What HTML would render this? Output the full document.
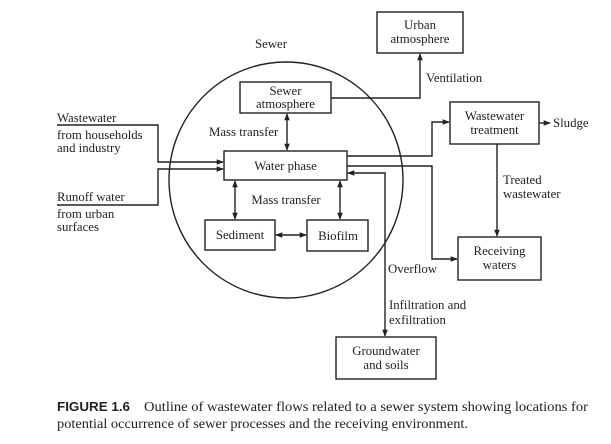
<!DOCTYPE html>
<html><head><meta charset="utf-8"><style>
html,body{margin:0;padding:0;background:#fff;width:611px;height:444px;overflow:hidden}
svg{display:block}
text{font-family:"Liberation Serif",serif;font-size:12.8px;fill:#222}
.c{font-size:14px}
</style></head><body>
<svg width="611" height="444" viewBox="0 0 611 444" xmlns="http://www.w3.org/2000/svg">
<defs><marker id="a" viewBox="0 0 10 10" refX="9" refY="5" markerWidth="7" markerHeight="7" orient="auto-start-reverse" markerUnits="userSpaceOnUse"><path d="M0,1 L10,5 L0,9 z" fill="#222"/></marker></defs>
<g fill="none" stroke="#222" stroke-width="1.4">
<ellipse cx="286" cy="180" rx="117" ry="118"/>
<rect x="377" y="12" width="86" height="41"/>
<rect x="240" y="82" width="91" height="31"/>
<rect x="224" y="151" width="123" height="29"/>
<rect x="205" y="220" width="70" height="30"/>
<rect x="307" y="220" width="61" height="31"/>
<rect x="450" y="102" width="89" height="42"/>
<rect x="458" y="237" width="83" height="43"/>
<rect x="336" y="337" width="100" height="42"/>
<polyline points="331,98 420,98 420,54" marker-end="url(#a)"/>
<line x1="287" y1="114" x2="287" y2="150" marker-start="url(#a)" marker-end="url(#a)"/>
<line x1="235" y1="181" x2="235" y2="219" marker-start="url(#a)" marker-end="url(#a)"/>
<line x1="340" y1="181" x2="340" y2="219" marker-start="url(#a)" marker-end="url(#a)"/>
<line x1="276" y1="235" x2="306" y2="235" marker-start="url(#a)" marker-end="url(#a)"/>
<polyline points="57,125 158,125 158,162 223,162" marker-end="url(#a)"/>
<polyline points="57,205 158,205 158,169 223,169" marker-end="url(#a)"/>
<polyline points="347,156 432,156 432,122 449,122" marker-end="url(#a)"/>
<line x1="539" y1="123" x2="550" y2="123" marker-end="url(#a)"/>
<line x1="497" y1="144" x2="497" y2="236" marker-end="url(#a)"/>
<polyline points="347,166 432,166 432,259 457,259" marker-end="url(#a)"/>
<polyline points="348,173 385,173 385,336" marker-start="url(#a)" marker-end="url(#a)"/>
</g>
<text x="420" y="29" text-anchor="middle">Urban</text>
<text x="420" y="43" text-anchor="middle">atmosphere</text>
<text x="271" y="48" text-anchor="middle">Sewer</text>
<text x="285.5" y="95" text-anchor="middle">Sewer</text>
<text x="285.5" y="108" text-anchor="middle">atmosphere</text>
<text x="426" y="82">Ventilation</text>
<text x="209" y="136">Mass transfer</text>
<text x="285.5" y="170" text-anchor="middle">Water phase</text>
<text x="286" y="204" text-anchor="middle">Mass transfer</text>
<text x="240" y="239" text-anchor="middle">Sediment</text>
<text x="338" y="240" text-anchor="middle">Biofilm</text>
<text x="57" y="122">Wastewater</text>
<text x="57" y="139">from households</text>
<text x="57" y="152">and industry</text>
<text x="57" y="201">Runoff water</text>
<text x="57" y="218">from urban</text>
<text x="57" y="231">surfaces</text>
<text x="494.5" y="120" text-anchor="middle">Wastewater</text>
<text x="494.5" y="134" text-anchor="middle">treatment</text>
<text x="553" y="127">Sludge</text>
<text x="503" y="184">Treated</text>
<text x="503" y="198">wastewater</text>
<text x="499.5" y="255" text-anchor="middle">Receiving</text>
<text x="499.5" y="269" text-anchor="middle">waters</text>
<text x="388" y="273">Overflow</text>
<text x="389" y="309">Infiltration and</text>
<text x="389" y="324">exfiltration</text>
<text x="386" y="355" text-anchor="middle">Groundwater</text>
<text x="386" y="369" text-anchor="middle">and soils</text>
<text x="57" y="411" style="font-family:'Liberation Sans',sans-serif;font-weight:bold;font-size:13px" textLength="73" lengthAdjust="spacingAndGlyphs">FIGURE 1.6</text>
<text class="c" x="144" y="411" textLength="444" lengthAdjust="spacingAndGlyphs">Outline of wastewater flows related to a sewer system showing locations for</text>
<text class="c" x="57" y="428" textLength="411" lengthAdjust="spacingAndGlyphs">potential occurrence of sewer processes and the receiving environment.</text>
</svg>
</body></html>
